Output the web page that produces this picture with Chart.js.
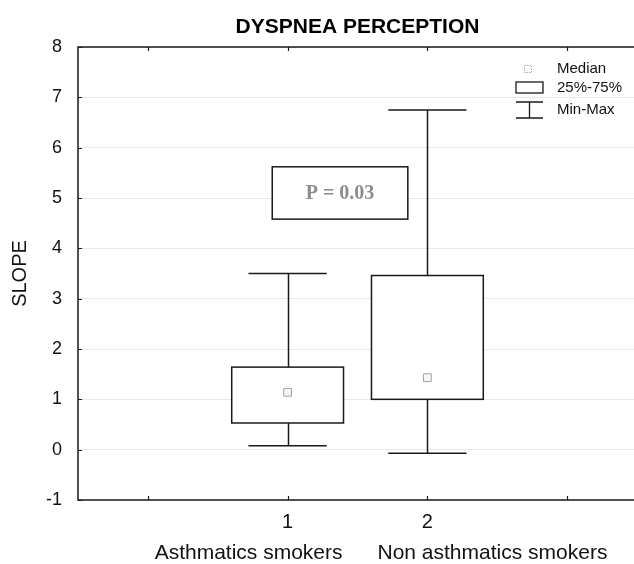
<!DOCTYPE html>
<html>
<head>
<meta charset="utf-8">
<script src="https://cdn.jsdelivr.net/npm/chart.js@4.4.1/dist/chart.umd.min.js"></script>
<style>
  html, body { margin:0; padding:0; background:#fff; overflow:hidden; }
  #wrap { width:650px; height:564px; }
</style>
</head>
<body>
<div id="wrap"><canvas id="c" width="650" height="564"></canvas></div>
<script>
// ---- data ----
const categories = ['Asthmatics smokers', 'Non asthmatics smokers'];
const xPositions = [1, 2];
const mins    = [0.08, -0.07];
const q1s     = [0.53, 1.00];
const medians = [1.14, 1.43];
const q3s     = [1.64, 3.46];
const maxs    = [3.50, 6.75];
const yTickValues = [-1, 0, 1, 2, 3, 4, 5, 6, 7, 8];
const xTickValues = [0, 1, 2, 3];
const xTickLabels = ['', '1', '2', ''];
const pText = 'P = 0.03';
const pBoxX = [0.89, 1.86];
const pBoxY = [4.58, 5.62];
const legendLabels = ['Median', '25%-75%', 'Min-Max'];

const SANS = '"Liberation Sans", Arial, sans-serif';
const SERIF = '"Liberation Serif", "Times New Roman", serif';
const BOX_W = 0.8, CAP_W = 0.56;

const boxPlugin = {
  id: 'boxPlugin',
  beforeDatasetsDraw(chart) {
    const ctx = chart.ctx, xs = chart.scales.x, ys = chart.scales.y;
    ctx.save();
    ctx.strokeStyle = '#1a1a1a';
    ctx.lineWidth = 1.5;
    xPositions.forEach((xv, i) => {
      const xc = Math.round(xs.getPixelForValue(xv)) + 0.5;
      const bl = xs.getPixelForValue(xv - BOX_W / 2), br = xs.getPixelForValue(xv + BOX_W / 2);
      const cl = xs.getPixelForValue(xv - CAP_W / 2), cr = xs.getPixelForValue(xv + CAP_W / 2);
      const yMin = ys.getPixelForValue(mins[i]), yMax = ys.getPixelForValue(maxs[i]);
      const yQ1 = ys.getPixelForValue(q1s[i]), yQ3 = ys.getPixelForValue(q3s[i]);
      ctx.beginPath();
      ctx.moveTo(xc, yMax); ctx.lineTo(xc, yQ3);
      ctx.moveTo(xc, yQ1); ctx.lineTo(xc, yMin);
      ctx.moveTo(cl, yMax); ctx.lineTo(cr, yMax);
      ctx.moveTo(cl, yMin); ctx.lineTo(cr, yMin);
      ctx.stroke();
      ctx.fillStyle = '#fff';
      ctx.fillRect(bl, yQ3, br - bl, yQ1 - yQ3);
      ctx.strokeRect(bl, yQ3, br - bl, yQ1 - yQ3);
    });
    // P-value box
    const px0 = xs.getPixelForValue(pBoxX[0]), px1 = xs.getPixelForValue(pBoxX[1]);
    const py0 = ys.getPixelForValue(pBoxY[1]), py1 = ys.getPixelForValue(pBoxY[0]);
    ctx.fillStyle = '#fff';
    ctx.fillRect(px0, py0, px1 - px0, py1 - py0);
    ctx.strokeRect(px0, py0, px1 - px0, py1 - py0);
    ctx.fillStyle = '#8c8c8c';
    ctx.font = 'bold 20px ' + SERIF;
    ctx.textAlign = 'center';
    ctx.textBaseline = 'middle';
    ctx.fillText(pText, (px0 + px1) / 2, (py0 + py1) / 2 + 1);
    ctx.restore();
  },
  afterDraw(chart) {
    const ctx = chart.ctx, xs = chart.scales.x, ys = chart.scales.y;
    const ca = chart.chartArea;
    ctx.save();
    // frame
    ctx.strokeStyle = '#1a1a1a';
    ctx.lineWidth = 1.5;
    ctx.strokeRect(ca.left, ca.top, ca.right - ca.left, ca.bottom - ca.top);
    // inner ticks
    ctx.lineWidth = 1.2;
    ctx.beginPath();
    yTickValues.forEach(v => {
      const y = Math.round(ys.getPixelForValue(v)) + 0.5;
      ctx.moveTo(ca.left, y); ctx.lineTo(ca.left + 4, y);
    });
    xTickValues.forEach(v => {
      const x = Math.round(xs.getPixelForValue(v)) + 0.5;
      ctx.moveTo(x, ca.top); ctx.lineTo(x, ca.top + 4);
      ctx.moveTo(x, ca.bottom); ctx.lineTo(x, ca.bottom - 4);
    });
    ctx.stroke();
    // category names
    ctx.fillStyle = '#111';
    ctx.font = '21px ' + SANS;
    ctx.textBaseline = 'middle';
    const mid = (xs.getPixelForValue(xPositions[0]) + xs.getPixelForValue(xPositions[1])) / 2;
    ctx.textAlign = 'right';
    ctx.fillText(categories[0], mid - 15, 553);
    ctx.textAlign = 'left';
    ctx.fillText(categories[1], mid + 20, 553);
    // legend
    const lx = 516, lw = 27;
    ctx.strokeStyle = '#aaa';
    ctx.lineWidth = 1;
    ctx.setLineDash([1.5, 1]);
    ctx.strokeRect(lx + 8.5, 65.5, 7, 7);
    ctx.setLineDash([]);
    ctx.strokeStyle = '#1a1a1a';
    ctx.lineWidth = 1.3;
    ctx.strokeRect(lx, 82, lw, 11);
    ctx.beginPath();
    ctx.moveTo(lx, 102); ctx.lineTo(lx + lw, 102);
    ctx.moveTo(lx, 118); ctx.lineTo(lx + lw, 118);
    ctx.moveTo(lx + lw / 2, 102); ctx.lineTo(lx + lw / 2, 118);
    ctx.stroke();
    ctx.fillStyle = '#111';
    ctx.font = '15px ' + SANS;
    ctx.textAlign = 'left';
    ctx.fillText(legendLabels[0], 557, 69);
    ctx.fillText(legendLabels[1], 557, 88);
    ctx.fillText(legendLabels[2], 557, 110);
    ctx.restore();
  }
};

new Chart(document.getElementById('c'), {
  type: 'scatter',
  data: {
    datasets: [{
      label: 'Median',
      data: xPositions.map((x, i) => ({ x: x, y: medians[i] })),
      pointStyle: 'rect',
      pointRadius: 5.5,
      pointBackgroundColor: '#f6f6f6',
      pointBorderColor: '#a0a0a0',
      pointBorderWidth: 1
    }]
  },
  options: {
    responsive: false,
    animation: false,
    devicePixelRatio: 1,
    layout: { padding: { left: 0, right: 13, top: 0, bottom: 0 } },
    plugins: {
      legend: { display: false },
      tooltip: { enabled: false },
      title: {
        display: true,
        fullSize: false,
        text: 'DYSPNEA PERCEPTION',
        color: '#000',
        font: { family: SANS, size: 21, weight: 'bold', lineHeight: 1.2 },
        padding: { top: 15, bottom: 6.8 }
      }
    },
    scales: {
      x: {
        type: 'linear',
        min: -0.5, max: 3.5,
        afterBuildTicks: s => { s.ticks = xTickValues.map(v => ({ value: v })); },
        afterFit: s => { s.height = 64; },
        grid: { display: false, drawTicks: false },
        border: { display: false },
        ticks: {
          padding: 10,
          color: '#111',
          font: { family: SANS, size: 20 },
          autoSkip: false,
          maxRotation: 0,
          callback: (v) => xTickLabels[xTickValues.indexOf(v)]
        }
      },
      y: {
        min: -1, max: 8,
        afterBuildTicks: s => { s.ticks = yTickValues.map(v => ({ value: v })); },
        afterFit: s => { s.width = 78; },
        grid: { color: '#e8e8e8', lineWidth: 1, drawTicks: false },
        border: { display: false },
        ticks: {
          padding: 16,
          color: '#111',
          font: { family: SANS, size: 18 }
        },
        title: {
          display: true,
          text: 'SLOPE',
          color: '#111',
          font: { family: SANS, size: 20, lineHeight: 1.2 },
          padding: { top: 8, bottom: 0 }
        }
      }
    }
  },
  plugins: [boxPlugin]
});
</script>
</body>
</html>
